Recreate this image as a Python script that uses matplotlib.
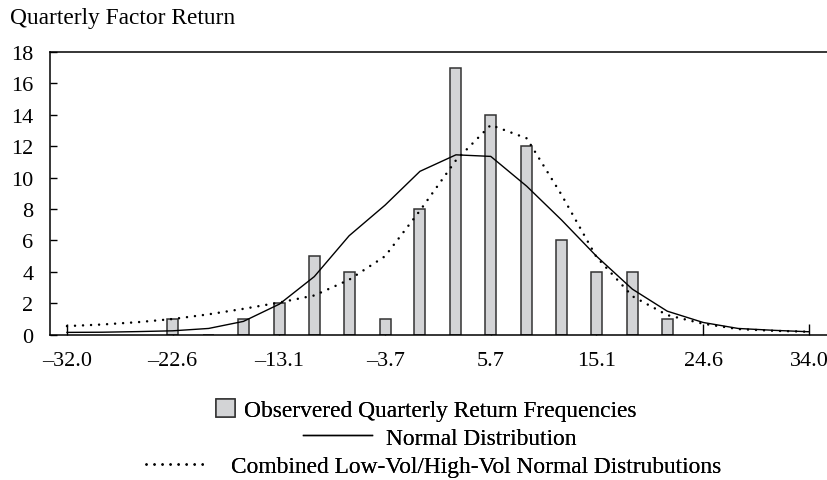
import matplotlib
matplotlib.use('Agg')
from matplotlib import pyplot as plt
from matplotlib.patches import Patch
from matplotlib.lines import Line2D

plt.rcParams['font.family'] = ['Liberation Serif', 'DejaVu Serif']

# grid of return values (bin centres) used by the curves
grid = [-32.0, -28.9, -25.7, -22.6, -19.4, -16.3, -13.1, -10.0, -6.9, -3.7, -0.6,
        2.6, 5.7, 8.9, 12.0, 15.1, 18.3, 21.4, 24.6, 27.7, 30.9, 34.0]
# observed frequencies, bins from -22.6 to 21.4
bins = [-22.6, -19.4, -16.3, -13.1, -10.0, -6.9, -3.7, -0.6, 2.6, 5.7, 8.9,
        12.0, 15.1, 18.3, 21.4]
observed = [1, 0, 1, 2, 5, 4, 1, 8, 17, 14, 12, 6, 4, 4, 1]
normal = [0.15, 0.16, 0.2, 0.25, 0.4, 0.85, 1.95, 3.7, 6.3, 8.25, 10.4,
          11.45, 11.35, 9.45, 7.3, 5.0, 2.9, 1.5, 0.78, 0.4, 0.28, 0.19]
combined = [0.55, 0.65, 0.8, 1.0, 1.3, 1.65, 2.05, 2.5, 3.5, 5.0, 7.9,
            11.1, 13.35, 12.5, 8.9, 4.95, 2.45, 1.25, 0.7, 0.36, 0.25, 0.19]
xticks = [-32.0, -22.6, -13.1, -3.7, 5.7, 15.1, 24.6, 34.0]
xticklabels = ['\u201332.0', '\u201322.6', '\u201313.1', '\u20133.7',
               '5.7', '15.1', '24.6', '34.0']
yticks = [0, 2, 4, 6, 8, 10, 12, 14, 16, 18]

fs = 16.8     # title / legend
tfs = 16      # tick labels
bar_face = '#d3d4d6'
bar_edge = '#333333'

fig = plt.figure(figsize=(8.28, 4.81), dpi=100)
ax = fig.add_axes([0.0604, 0.302, 0.9396, 0.588])

ax.bar(bins, observed, width=0.98, color=bar_face, edgecolor=bar_edge,
       linewidth=1.1, zorder=2)
ax.plot(grid, normal, color='black', lw=1.0, zorder=3)
ax.plot(grid, combined, color='black', lw=1.8, linestyle=(0, (0.01, 3.2)),
        dash_capstyle='round', zorder=3)

ax.set_xlim(-33.51, 35.7)
ax.set_ylim(0, 18)
ax.set_xticks(xticks)
ax.set_xticklabels(xticklabels)
ax.set_yticks(yticks)
ax.tick_params(axis='x', direction='in', length=8, width=1.0, pad=12,
               labelsize=tfs)
ax.tick_params(axis='y', direction='in', length=5, width=1.0, pad=12,
               labelsize=tfs)
ax.spines['right'].set_visible(False)
for s in ['left', 'bottom', 'top']:
    ax.spines[s].set_linewidth(1.1)

fig.text(0.012, 1 - 8 / 481., 'Quarterly Factor Return', fontsize=fs,
         ha='left', va='top')

# legend rows are centred one under the other
h1 = Patch(facecolor=bar_face, edgecolor=bar_edge, linewidth=1.1)
h2 = Line2D([], [], color='black', lw=1.0)
h3 = Line2D([], [], color='black', lw=1.8, linestyle=(0, (0.01, 3.2)),
            dash_capstyle='round')
rows = [(h1, 'Observered Quarterly Return Frequencies', 0.515, 0.145, 0.8, 0.4),
        (h2, 'Normal Distribution', 0.531, 0.088, 2.95, 0.6),
        (h3, 'Combined Low-Vol/High-Vol Normal Distrubutions', 0.524, 0.028, 2.6, 1.05)]
for h, lab, cx, cy, hl, tp in rows:
    leg = fig.legend([h], [lab], loc='center', bbox_to_anchor=(cx, cy),
                     frameon=False, fontsize=fs, handlelength=hl,
                     handleheight=0.75, handletextpad=tp, borderpad=0,
                     borderaxespad=0)
    fig.add_artist(leg)

fig.savefig('out.png', dpi=100)
